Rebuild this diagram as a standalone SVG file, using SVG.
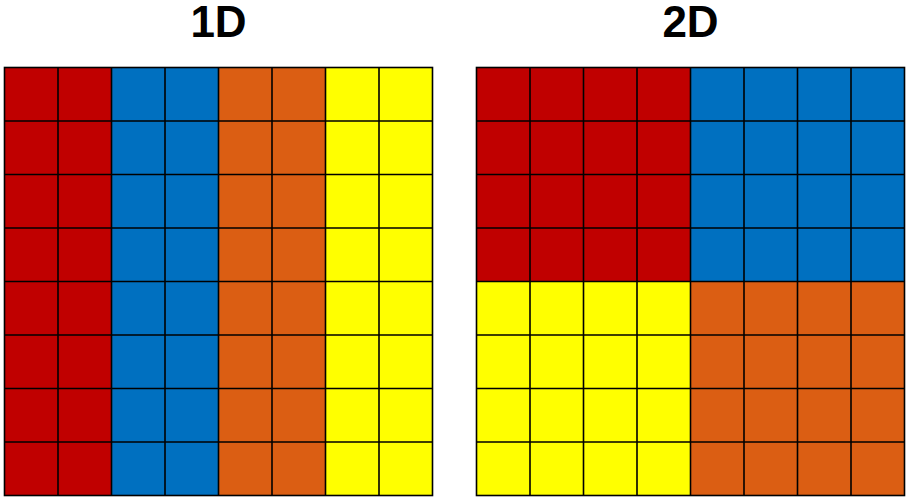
<svg xmlns="http://www.w3.org/2000/svg" width="906" height="498" viewBox="0 0 906 498">
<style>
.t{font-family:"Liberation Sans",Arial,sans-serif;font-weight:bold;font-size:44px;text-anchor:middle;fill:#000}
.r{fill:#C00000}.b{fill:#0070C0}.o{fill:#DB5E13}.y{fill:#FFFF00}
.g{fill:none;stroke:#000;stroke-width:1.6}
</style>
<defs>
<pattern id="grid" x="4.5" y="67.5" width="53.5" height="53.5" patternUnits="userSpaceOnUse">
<path d="M0 0H53.5M0 0V53.5" fill="none" stroke="#000" stroke-width="3.2"/>
</pattern>
</defs>
<text class="t" x="218.5" y="37">1D</text>
<text class="t" x="690.5" y="37">2D</text>
<g id="grid1d">
<rect class="r" x="4.5" y="67.5" width="107" height="428"/>
<rect class="b" x="111.5" y="67.5" width="107" height="428"/>
<rect class="o" x="218.5" y="67.5" width="107" height="428"/>
<rect class="y" x="325.5" y="67.5" width="107" height="428"/>
<path class="g" d="M58 67.5V495.5M111.5 67.5V495.5M165 67.5V495.5M218.5 67.5V495.5M272 67.5V495.5M325.5 67.5V495.5M379 67.5V495.5M4.5 121H432.5M4.5 174.5H432.5M4.5 228H432.5M4.5 281.5H432.5M4.5 335H432.5M4.5 388.5H432.5M4.5 442H432.5"/>
<rect class="g" x="4.5" y="67.5" width="428" height="428"/>
</g>
<g id="grid2d">
<rect class="r" x="476.5" y="67.5" width="214" height="214"/>
<rect class="b" x="690.5" y="67.5" width="214" height="214"/>
<rect class="y" x="476.5" y="281.5" width="214" height="214"/>
<rect class="o" x="690.5" y="281.5" width="214" height="214"/>
<path class="g" d="M530 67.5V495.5M583.5 67.5V495.5M637 67.5V495.5M690.5 67.5V495.5M744 67.5V495.5M797.5 67.5V495.5M851 67.5V495.5M476.5 121H904.5M476.5 174.5H904.5M476.5 228H904.5M476.5 281.5H904.5M476.5 335H904.5M476.5 388.5H904.5M476.5 442H904.5"/>
<rect class="g" x="476.5" y="67.5" width="428" height="428"/>
</g>
</svg>
